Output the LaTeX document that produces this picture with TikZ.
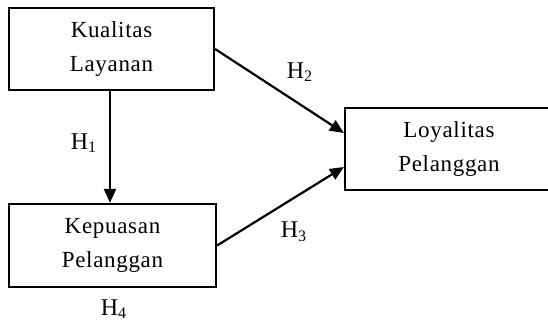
\documentclass[tikz,border=0pt]{standalone}
\usepackage{fontspec}
\setmainfont{Liberation Serif}
\newfontfamily\spacedserif[LetterSpace=3]{Liberation Serif}
\usepackage{tikz}
\usetikzlibrary{arrows.meta,positioning,calc}

\begin{document}
\begin{tikzpicture}[x=0.5pt, y=-0.5pt,
    varbox/.style={draw, line width=1.1pt, align=center, inner sep=0pt,
        font=\spacedserif\fontsize{11.5}{17}\selectfont},
    link/.style={line width=1.1pt, -{Triangle[length=7pt,width=6pt]}},
    hlabel/.style={font=\fontsize{12}{13}\selectfont}]
    % Canvas
    \useasboundingbox (0,0) rectangle (548,325);
    \clip (0,0) rectangle (548,325);

    % Variables
    \node[varbox, minimum width=102.5pt, minimum height=41pt] (kualitas) at (111.5,49) {Kualitas\\Layanan};
    \node[varbox, minimum width=103.5pt, minimum height=41.5pt] (kepuasan) at (112.5,245.5) {Kepuasan\\Pelanggan};
    \node[varbox, minimum width=104pt, minimum height=41pt] (loyalitas) at (449,149) {Loyalitas\\Pelanggan};

    % Arrow ends on the right box
    \coordinate (inH2) at ($(loyalitas.west)+(0,-16)$);
    \coordinate (inH3) at ($(loyalitas.west)+(0,18)$);

    % Paths
    \draw[link] (kualitas.south -| 110,0) -- (kepuasan.north -| 110,0);
    \draw[link] (kualitas.east) -- (inH2);
    \draw[link] (kepuasan.east) -- (inH3);

    % Hypotheses
    \node[hlabel] (h1) at (84,143) {H\textsubscript{1}};
    \node[hlabel] (h2) at (300,72) {H\textsubscript{2}};
    \node[hlabel] (h3) at (294,232) {H\textsubscript{3}};
    \node[hlabel] (h4) at (114,309) {H\textsubscript{4}};
\end{tikzpicture}
\end{document}
